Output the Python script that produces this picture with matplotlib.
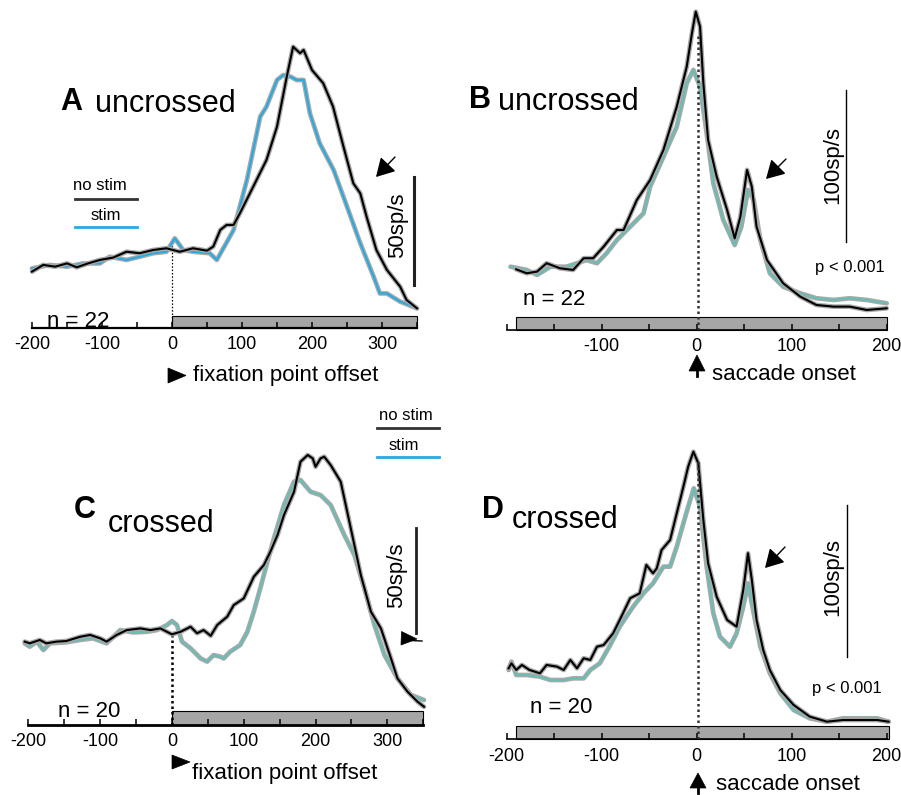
import matplotlib
matplotlib.use('Agg')
import matplotlib.pyplot as plt
from matplotlib.patches import Polygon, FancyArrowPatch, Rectangle
from matplotlib.lines import Line2D
from matplotlib.ticker import MultipleLocator

plt.rcParams['font.family'] = ['Liberation Sans', 'DejaVu Sans']
plt.rcParams['axes.unicode_minus'] = False

W, H = 901, 795

# ---- data (sp/s vs ms) ----
# A: uncrossed, aligned on fixation point offset
a_t_nostim = [-200, -184, -167, -150, -136, -120, -103, -84, -65, -46, -27, -8, 11, 30, 50, 59, 69, 78, 88, 97,
              116, 135, 150, 164, 173, 183, 188, 200, 216, 230, 245, 259, 269, 278, 292, 307, 326, 335, 350]
a_r_nostim = [26.1, 29.2, 28.4, 29.9, 28.1, 29.9, 31.5, 32.6, 35.3, 34.6, 36.1, 36.9, 35.3, 36.9, 35.8, 37.7, 45.4,
              47.7, 47.7, 53.1, 65.4, 77.8, 93.2, 116.4, 130.2, 127.2, 128.7, 119.4, 113.3, 102.5, 83.9, 67, 62.3,
              51.5, 36.1, 26.9, 19.1, 13, 9.1]
a_t_stim = [-200, -174, -150, -127, -103, -89, -65, -46, -27, -8, 4, 16, 30, 54, 64, 88, 107, 126, 135, 150, 159,
            169, 178, 188, 197, 211, 231, 250, 269, 288, 297, 307, 326, 350]
a_r_stim = [27.6, 29.2, 28.4, 29.9, 29.9, 33, 31.5, 33, 34.6, 35.3, 41.5, 36.1, 35.3, 34.6, 31.5, 45.4, 68.5, 97.8,
            102.5, 114.8, 117.1, 116.4, 114.8, 114.8, 99.4, 85.5, 73.1, 56.2, 39.2, 23.8, 16, 16, 12.2, 9.1]

# B: uncrossed, aligned on saccade onset
b_t_nostim = [-190, -179, -168, -158, -144, -130, -119, -109, -98, -84, -77, -63, -49, -35, -21, -10.5, -5, -1, 3.5,
              7, 12, 21, 32, 40, 46, 53, 58, 63, 74, 91, 109, 126, 144, 161, 179, 200]
b_r_nostim = [40, 37.4, 38.5, 44, 40.7, 39.6, 47.3, 47.3, 54.9, 65.9, 65.9, 85.7, 98.9, 118.7, 147.2, 173.6, 195.6,
              209.8, 200, 162.6, 125.2, 101.1, 79.1, 60.4, 74.7, 105.5, 94.5, 68.1, 46.1, 30.8, 22, 16.5, 15.4,
              15.4, 13.2, 14.3]
b_t_stim = [-196, -179, -168, -154, -137, -126, -116, -105, -95, -84, -70, -56, -49, -35, -21, -10.5, -3.5, 3.5,
            10.5, 17.5, 28, 40, 47, 54, 60, 67, 77, 91, 109, 126, 144, 161, 179, 200]
b_r_stim = [41.7, 39.6, 36.3, 41.7, 41.7, 44, 46.1, 44, 50.5, 59.3, 68.1, 76.9, 94.5, 114.2, 134, 162.6, 171.4,
            160.4, 129.7, 96.7, 72.5, 56, 68.1, 92.3, 85.7, 59.3, 37.4, 28.5, 24.2, 20.9, 19.8, 20.9, 19.8, 17.6]

# C: crossed, aligned on fixation point offset
c_t_nostim = [-205, -198, -184, -175, -161, -147, -128, -114, -100, -91, -77, -63, -44, -30, -16, -7, 0, 12, 26, 35,
              44, 54, 63, 77, 86, 100, 114, 128, 137, 147, 156, 170, 179, 189, 196, 200, 207, 212, 221, 235,
              249, 263, 277, 291, 305, 314, 328, 342, 351]
c_r_nostim = [39.7, 38.9, 40.5, 38.9, 39.7, 40, 42, 42.9, 41.3, 39.7, 42.9, 45.2, 46, 45.2, 46, 44.4, 43.2, 44.4,
              46.8, 43.7, 45.2, 42.5, 47.6, 51.6, 57.1, 60.3, 70.6, 76.2, 82.5, 90.5, 100, 111.1, 125.4, 128.6,
              127, 123, 127, 127.8, 123.8, 115.9, 93.7, 71.4, 54, 46, 31.7, 22.2, 15.9, 11.1, 8.7]
c_t_stim = [-205, -198, -188, -179, -170, -147, -128, -110, -91, -72, -54, -35, -21, -7, 0, 7, 14, 26, 40, 49,
            58, 68, 72, 81, 95, 105, 114, 123, 133, 142, 156, 170, 179, 193, 207, 221, 240, 254, 268, 282,
            296, 314, 333, 351]
c_r_stim = [38.9, 37.3, 39.7, 35.7, 38.9, 39.4, 40.5, 41.3, 38.9, 45.2, 44.1, 44.4, 45.2, 47.6, 49.5, 47.6, 39.7,
            36.5, 31.7, 30.2, 33.3, 32.5, 31.7, 34.9, 38.1, 44.4, 54, 65.1, 77.8, 88.9, 104.8, 115.9, 116.7,
            111.1, 109.5, 104.8, 90.5, 81, 65.1, 47.6, 33.3, 22.2, 14.3, 11.9]

# D: crossed, aligned on saccade onset
d_t_nostim = [-198, -195, -190, -184, -176, -165, -158, -147, -140, -133, -126, -119, -112, -105, -98, -88, -81,
              -70, -60, -53, -46, -42, -37, -28, -21, -14, -9, -3.5, 1.7, 7, 12, 21, 32, 42, 49, 54, 58, 63, 70,
              77, 88, 102, 119, 137, 154, 172, 190, 202]
d_r_nostim = [46.7, 50, 45.6, 48.9, 45.6, 43.4, 48.9, 47.8, 45.6, 52.2, 46.7, 53.3, 52.2, 60.9, 62, 69.7, 78.5,
              92.8, 96, 114.7, 109.2, 112.5, 124.5, 131.1, 148.7, 166.2, 179.3, 189.2, 181.6, 144.3, 115.8, 93.8,
              78.5, 74.1, 98.2, 122.4, 105, 78.5, 58.8, 45.6, 32.4, 22.6, 14.9, 11.6, 12.7, 12.7, 12.7, 11.6]
d_t_stim = [-198, -195, -190, -179, -165, -154, -140, -130, -119, -112, -102, -91, -81, -67, -56, -46, -35, -28,
            -21, -14, -9, -3, 3.5, 10.5, 17.5, 24.5, 35, 42, 49, 54, 60, 67, 77, 88, 102, 119, 137, 154, 172,
            190, 202]
d_r_stim = [45.6, 51.1, 42.3, 42.3, 41.2, 39, 39, 40.1, 40.1, 45.6, 50, 62, 74.1, 87.2, 96, 102.6, 113.6, 113.6,
            126.7, 142.1, 153, 165.1, 153, 113.6, 82.9, 67.5, 60.9, 69.7, 87.2, 102.6, 82.9, 60.9, 43.4, 30.3,
            19.3, 13.8, 11.6, 13.8, 13.8, 13.8, 11.6]

fpo_ticks = [-200, -100, 0, 100, 200, 300]
sac_ticks_b = [-100, 0, 100, 200]
sac_ticks_d = [-200, -100, 0, 100, 200]

# colours
shadow = '#a9a9a9'
blue = '#25aae1'
teal = '#68bdb4'
bar_gray = '#a6a6a6'

fig = plt.figure(figsize=(W / 100, H / 100), dpi=100)


def P(x, y):
    return (x / W, 1 - y / H)


def px_axes(l, t, r, b):
    return fig.add_axes([l / W, 1 - b / H, (r - l) / W, (b - t) / H])


def ftext(x, y, s, **kw):
    fig.text(x / W, 1 - y / H, s, **kw)


def tri(pts):
    fig.add_artist(Polygon([P(*p) for p in pts], closed=True, transform=fig.transFigure,
                           facecolor='black', edgecolor='black', lw=0.5))


def fline(pts, lw=1.0, color='black'):
    xs = [P(*p)[0] for p in pts]
    ys = [P(*p)[1] for p in pts]
    fig.add_artist(Line2D(xs, ys, transform=fig.transFigure, color=color, lw=lw))


def arrow(tail, tip):
    fig.add_artist(FancyArrowPatch(P(*tail), P(*tip), transform=fig.transFigure,
                                   arrowstyle='-|>,head_length=0.7,head_width=0.4',
                                   mutation_scale=16, lw=1.0, color='black',
                                   shrinkA=0, shrinkB=0))


def panel(ax, t1, r1, t2, r2, stim_color, xlim, ylim, bar, bar_h, majors, minor_step, spine_lw):
    ax.set_xlim(*xlim)
    ax.set_ylim(*ylim)
    ax.patch.set_alpha(0)
    for s in ['left', 'top', 'right']:
        ax.spines[s].set_visible(False)
    ax.spines['bottom'].set_linewidth(spine_lw)
    ax.spines['bottom'].set_bounds(xlim[0], xlim[1])
    ax.set_yticks([])
    ax.set_xticks(majors)
    ax.xaxis.set_minor_locator(MultipleLocator(minor_step))
    ax.tick_params(axis='x', which='both', direction='in', length=4, width=1.1, pad=6,
                   labelsize=13, top=False)
    ax.add_patch(Rectangle((bar[0], 0), bar[1] - bar[0], bar_h, facecolor=bar_gray,
                           edgecolor='black', lw=0.8, zorder=1, clip_on=False))
    ax.plot(t2, r2, color=shadow, lw=3.4, solid_capstyle='round', solid_joinstyle='round',
            zorder=3, clip_on=False)
    ax.plot(t2, r2, color=stim_color, lw=1.5, solid_joinstyle='round', zorder=4, clip_on=False)
    ax.plot(t1, r1, color=shadow, lw=3.4, solid_capstyle='round', solid_joinstyle='round',
            zorder=5, clip_on=False)
    ax.plot(t1, r1, color='black', lw=1.5, solid_joinstyle='round', zorder=6, clip_on=False)


# ---- panel A ----
axA = px_axes(32, 10, 417, 328)
panel(axA, a_t_nostim, a_r_nostim, a_t_stim, a_r_stim, blue, (-200, 350), (0, 147.2),
      (0, 350), 5.6, fpo_ticks, 50, 1.6)
axA.plot([0, 0], [0, 41.7], color='black', lw=0.9, ls=(0, (1.2, 1.5)), zorder=2)
axA.plot([346, 346], [20, 70], color='#222222', lw=2.2, clip_on=False)

# ---- panel B ----
axB = px_axes(506.7, 5, 886.7, 330)
panel(axB, b_t_nostim, b_r_nostim, b_t_stim, b_r_stim, teal, (-200, 200), (0, 214.2),
      (-190, 200), 8.6, sac_ticks_b, 50, 1.2)
axB.plot([1, 1], [0, 196], color='#333333', lw=1.8, ls=(0, (1, 1.2)), zorder=7)
axB.plot([157, 157], [58, 158], color='black', lw=1.0, clip_on=False)

# ---- panel C ----
axC = px_axes(28.3, 400, 423.3, 725)
panel(axC, c_t_nostim, c_r_nostim, c_t_stim, c_r_stim, teal, (-200, 350), (0, 154.8),
      (0, 350), 6.7, fpo_ticks, 50, 2.0)
axC.plot([0, 0], [0, 43], color='black', lw=1.8, ls=(0, (1, 1.2)), zorder=2)
axC.plot([340, 340], [43.7, 93.7], color='#222222', lw=2.0, clip_on=False)

# ---- panel D ----
axD = px_axes(506.7, 400, 886.7, 739.3)
panel(axD, d_t_nostim, d_r_nostim, d_t_stim, d_r_stim, teal, (-200, 200), (0, 223.2),
      (-190, 202), 8.6, sac_ticks_d, 50, 1.2)
axD.plot([1, 1], [0, 184], color='#333333', lw=1.8, ls=(0, (1, 1.2)), zorder=7)
axD.plot([158.5, 158.5], [54, 154], color='black', lw=1.0, clip_on=False)

# ---- panel titles ----
ftext(60, 110, 'A', fontsize=22, fontweight='bold', va='baseline')
ftext(95, 112, 'uncrossed', fontsize=22, va='baseline')
ftext(469, 108, 'B', fontsize=22, fontweight='bold', va='baseline')
ftext(498, 110, 'uncrossed', fontsize=22, va='baseline')
ftext(74, 518, 'C', fontsize=22, fontweight='bold', va='baseline')
ftext(108, 532, 'crossed', fontsize=22, va='baseline')
ftext(482, 518, 'D', fontsize=22, fontweight='bold', va='baseline')
ftext(512, 528, 'crossed', fontsize=22, va='baseline')

# ---- legends ----
ftext(100, 186, 'no stim', fontsize=12, ha='center', va='center')
fline([(75, 199), (137, 199)], lw=2.0, color='#333333')
ftext(106, 215, 'stim', fontsize=12, ha='center', va='center')
fline([(75, 227), (137, 227)], lw=2.0, color=blue)
ftext(406, 415, 'no stim', fontsize=12, ha='center', va='center')
fline([(377, 428), (439, 428)], lw=2.0, color='#333333')
ftext(404, 446, 'stim', fontsize=12, ha='center', va='center')
fline([(377, 457), (439, 457)], lw=2.0, color=blue)

# ---- n labels, p values ----
ftext(47, 327, 'n = 22', fontsize=16, va='baseline')
ftext(523, 305, 'n = 22', fontsize=16, va='baseline')
ftext(58, 717, 'n = 20', fontsize=16, va='baseline')
ftext(530, 713, 'n = 20', fontsize=16, va='baseline')
ftext(850, 268, 'p < 0.001', fontsize=12, ha='center', va='center')
ftext(847, 688, 'p < 0.001', fontsize=12, ha='center', va='center')

# ---- scale bar labels ----
ftext(398, 225, '50sp/s', fontsize=16, rotation=90, ha='center', va='center')
ftext(833, 165, '100sp/s', fontsize=16, rotation=90, ha='center', va='center')
ftext(397, 575, '50sp/s', fontsize=16, rotation=90, ha='center', va='center')
ftext(833, 577, '100sp/s', fontsize=16, rotation=90, ha='center', va='center')

# ---- alignment labels ----
tri([(168, 368), (168, 383), (186, 375.5)])
ftext(193, 381, 'fixation point offset', fontsize=16, va='baseline')
tri([(172, 755), (172, 769), (190, 762)])
ftext(192, 779, 'fixation point offset', fontsize=16, va='baseline')
tri([(697, 355), (689, 371), (705, 371)])
fline([(697, 370), (697, 376)], lw=2.0)
ftext(712, 380, 'saccade onset', fontsize=16, va='baseline')
tri([(698, 773), (690, 788), (706, 788)])
fline([(698, 787), (698, 793)], lw=2.0)
ftext(716, 790, 'saccade onset', fontsize=16, va='baseline')

# ---- arrows ----
arrow((395, 157), (376, 177))
arrow((786, 159), (766, 179))
arrow((785, 547), (765, 568))
tri([(401.5, 631.5), (401, 645), (417, 639)])
fline([(410, 640.5), (422, 641)], lw=1.0)

fig.savefig('out.png', dpi=100, facecolor='white')
